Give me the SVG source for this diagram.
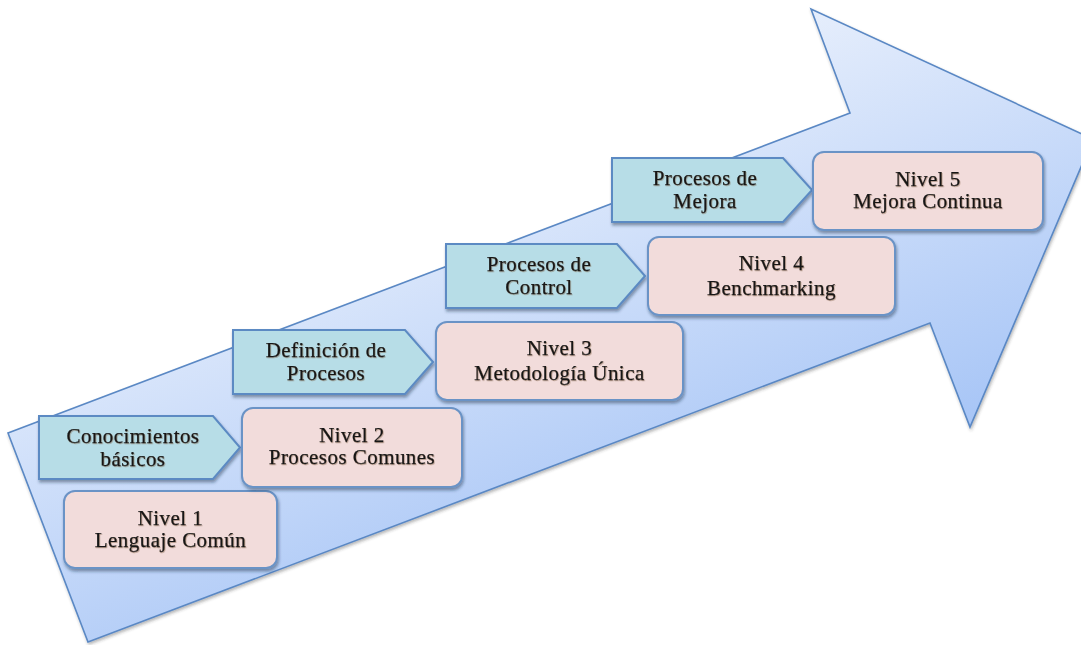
<svg xmlns="http://www.w3.org/2000/svg" width="1081" height="645" viewBox="0 0 1081 645">
  <defs>
    <linearGradient id="arrowFill" gradientUnits="userSpaceOnUse" x1="800" y1="10" x2="960" y2="430">
      <stop offset="0" stop-color="#e6eefc"/>
      <stop offset="1" stop-color="#a7c5f6"/>
    </linearGradient>
    <filter id="shadow" x="-10%" y="-10%" width="120%" height="130%">
      <feDropShadow dx="1" dy="2.5" stdDeviation="1.6" flood-color="#1f2f45" flood-opacity="0.45"/>
    </filter>
    <filter id="arrowShadow" x="-5%" y="-5%" width="110%" height="110%">
      <feDropShadow dx="1" dy="2" stdDeviation="1.5" flood-color="#333" flood-opacity="0.35"/>
    </filter>
    <filter id="textShadow" x="-5%" y="-20%" width="110%" height="140%">
      <feDropShadow dx="0.7" dy="0.9" stdDeviation="0.6" flood-color="#6b4a2a" flood-opacity="0.45"/>
    </filter>
    <style>
      .step { fill: #b7dde7; stroke: #5c8ac3; stroke-width: 2; filter: url(#shadow); }
      .level { fill: #f2dcdb; stroke: #6b93c6; stroke-width: 2; filter: url(#shadow); }
      .label { font-family: "Liberation Serif", "DejaVu Serif", serif; font-size: 21px; fill: #161616; stroke: #161616; stroke-width: 0.25px; text-anchor: middle; letter-spacing: 0.45px; filter: url(#textShadow); }
    </style>
  </defs>

  <rect width="1081" height="645" fill="#ffffff"/>

  <!-- big rising arrow in the background -->
  <g id="arrow">
    <path d="M8,433 L850,113 L811,9 L1093,139 L970,427 L930,323 L88,642 Z"
          fill="url(#arrowFill)" stroke="#5a88c4" stroke-width="1.6" stroke-linejoin="miter" filter="url(#arrowShadow)"/>
  </g>

  <!-- step 1 -->
  <g id="step1">
    <path class="step" d="M39,416 H213 L240,447.5 L213,479 H39 Z"/>
    <text class="label" x="133" y="443">Conocimientos</text>
    <text class="label" x="133" y="466">básicos</text>
  </g>
  <g id="level1">
    <rect class="level" x="64" y="491" width="213" height="77" rx="11"/>
    <text class="label" x="170.5" y="525">Nivel 1</text>
    <text class="label" x="170.5" y="547">Lenguaje Común</text>
  </g>

  <!-- step 2 -->
  <g id="step2">
    <path class="step" d="M233,330 H405 L433,362 L405,394 H233 Z"/>
    <text class="label" x="326" y="357">Definición de</text>
    <text class="label" x="326" y="380">Procesos</text>
  </g>
  <g id="level2">
    <rect class="level" x="242" y="408" width="220" height="79" rx="11"/>
    <text class="label" x="352" y="442">Nivel 2</text>
    <text class="label" x="352" y="464">Procesos Comunes</text>
  </g>

  <!-- step 3 -->
  <g id="step3">
    <path class="step" d="M446,244 H617 L645,276 L617,308 H446 Z"/>
    <text class="label" x="539" y="271">Procesos de</text>
    <text class="label" x="539" y="294">Control</text>
  </g>
  <g id="level3">
    <rect class="level" x="436" y="322" width="247" height="78" rx="11"/>
    <text class="label" x="559.5" y="355">Nivel 3</text>
    <text class="label" x="559.5" y="380">Metodología Única</text>
  </g>

  <!-- step 4 -->
  <g id="step4">
    <path class="step" d="M612,158 H783 L812,190 L783,222 H612 Z"/>
    <text class="label" x="705" y="185">Procesos de</text>
    <text class="label" x="705" y="208">Mejora</text>
  </g>
  <g id="level4">
    <rect class="level" x="648" y="237" width="247" height="78" rx="11"/>
    <text class="label" x="771.5" y="270">Nivel 4</text>
    <text class="label" x="771.5" y="295">Benchmarking</text>
  </g>

  <!-- level 5 -->
  <g id="level5">
    <rect class="level" x="813" y="152" width="230" height="78" rx="11"/>
    <text class="label" x="928" y="186">Nivel 5</text>
    <text class="label" x="928" y="208">Mejora Continua</text>
  </g>
</svg>
